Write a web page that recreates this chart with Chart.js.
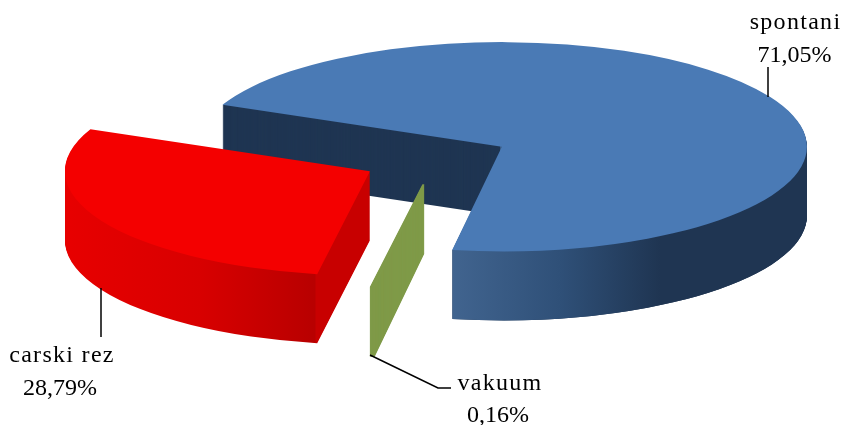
<!DOCTYPE html>
<html>
<head>
<meta charset="utf-8">
<style>
  html, body { margin: 0; padding: 0; background: #fff; }
  canvas { display: block; }
</style>
<script src="https://cdn.jsdelivr.net/npm/chart.js@4"></script>
</head>
<body>
<canvas id="pie" width="845" height="425"></canvas>
<script>
// Data
const categories = ['spontani', 'vakuum', 'carski rez'];
const shares = [71.05, 0.16, 28.79];
const topColors = ['#4a7ab5', '#7f9a48', '#f40000'];

// 3D look of the pie
const pieCenter = { x: 436, y: 159 };
const squash = 0.343;
const depth = 69;
const pieRadius = 305;
const explode = 75;

// Label placement: [name centre x, name baseline, share centre x, share baseline]
const labelSpots = [
  [795.5, 29, 794.5, 62],
  [500, 390, 498, 422],
  [62, 362, 60, 395]
];
const leaders = [
  [[768, 97], [768, 67]],
  [[370, 355], [438, 388], [451, 388]],
  [[101, 288], [101, 337]]
];

function sliceShift(arc) {
  const mid = (arc.startAngle + arc.endAngle) / 2;
  return { x: Math.cos(mid) * explode, y: Math.sin(mid) * explode };
}

function rimGradient(ctx, arc, stops) {
  // gradient is given in page x, map it into the slice's moved space
  const dx = arc.x - pieCenter.x - sliceShift(arc).x;
  const x0 = stops[0][0];
  const x1 = stops[stops.length - 1][0];
  const g = ctx.createLinearGradient(x0 + dx, 0, x1 + dx, 0);
  stops.forEach(s => g.addColorStop((s[0] - x0) / (x1 - x0), s[1]));
  return g;
}

function drawSlice(ctx, arc, drop) {
  const shift = sliceShift(arc);
  ctx.save();
  ctx.translate(shift.x, shift.y + drop / squash);
  arc.draw(ctx);
  ctx.restore();
}

function drawStack(ctx, arc, fill) {
  const original = arc.options;
  arc.options = Object.assign({}, original, { backgroundColor: fill });
  for (let i = depth; i >= 1; i--) drawSlice(ctx, arc, i);
  arc.options = original;
}

const pie3d = {
  id: 'pie3d',
  beforeDatasetsDraw(chart) {
    const ctx = chart.ctx;
    const arcs = chart.getDatasetMeta(0).data;
    const blue = arcs[0], green = arcs[1], red = arcs[2];
    const toPie = () => {
      ctx.translate(pieCenter.x, pieCenter.y);
      ctx.scale(1, squash);
      ctx.translate(-blue.x, -blue.y);
    };

    // blue: cut wall first, then the shaded rim on the front only
    ctx.save();
    toPie();
    drawStack(ctx, blue, '#1f3552');
    ctx.restore();

    ctx.save();
    ctx.beginPath();
    ctx.rect(446, 232, 400, 200);
    ctx.rect(500, 0, 400, 232);
    ctx.clip();
    toPie();
    drawStack(ctx, blue, rimGradient(ctx, blue, [
      [452, '#41648f'], [560, '#2f5078'], [660, '#1f3552'], [810, '#1f3552']
    ]));
    ctx.restore();

    ctx.save();
    toPie();
    drawStack(ctx, green, '#7f9a48');
    drawStack(ctx, red, rimGradient(ctx, red, [
      [60, '#e80000'], [200, '#d80000'], [315, '#b80000'], [316, '#c80000'], [370, '#c80000']
    ]));
    arcs.forEach(a => drawSlice(ctx, a, 0));
    ctx.restore();

    // leader lines
    ctx.strokeStyle = '#000';
    ctx.lineWidth = 1.5;
    leaders.forEach(pts => {
      ctx.beginPath();
      pts.forEach((p, i) => i ? ctx.lineTo(p[0], p[1]) : ctx.moveTo(p[0], p[1]));
      ctx.stroke();
    });

    // labels
    ctx.fillStyle = '#000';
    ctx.font = '24px "Liberation Serif"';
    ctx.textAlign = 'center';
    ctx.textBaseline = 'alphabetic';
    categories.forEach((name, i) => {
      const spot = labelSpots[i];
      ctx.letterSpacing = '1.3px';
      ctx.fillText(name, spot[0], spot[1]);
      ctx.letterSpacing = '0px';
      ctx.fillText(shares[i].toFixed(2).replace('.', ',') + '%', spot[2], spot[3]);
    });
    return false;
  }
};

new Chart(document.getElementById('pie'), {
  type: 'pie',
  data: {
    labels: categories,
    datasets: [{
      data: shares,
      backgroundColor: topColors,
      borderColor: topColors,
      borderWidth: [0, 2, 0]
    }]
  },
  options: {
    responsive: false,
    animation: false,
    radius: pieRadius,
    rotation: 293.6,
    plugins: { legend: { display: false }, tooltip: { enabled: false } }
  },
  plugins: [pie3d]
});
</script>
</body>
</html>
